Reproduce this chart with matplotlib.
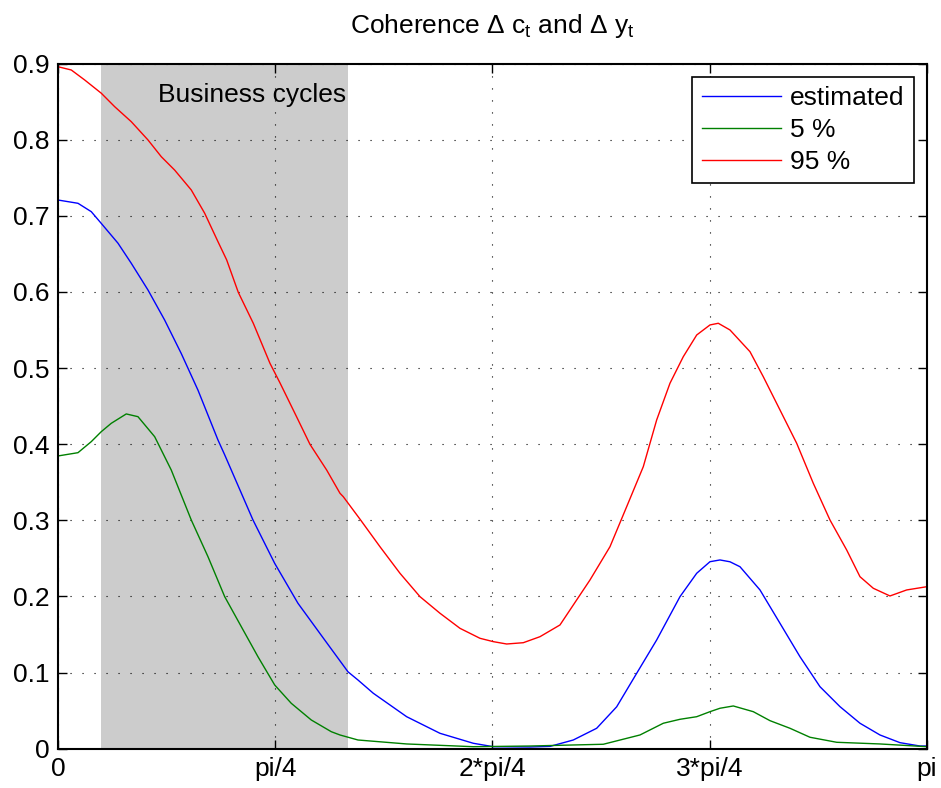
import numpy as np
import matplotlib
matplotlib.use("Agg")
import matplotlib.pyplot as plt

plt.rcParams['font.family'] = ['Liberation Sans', 'DejaVu Sans']
plt.rcParams['mathtext.fontset'] = 'custom'
plt.rcParams['mathtext.rm'] = 'Liberation Sans'

# Frequencies (radians) and coherence values
est_w = [0, 0.0723, 0.1204, 0.1565, 0.2169, 0.2650, 0.3254, 0.3857, 0.4458, 0.5061,
         0.5784, 0.6027, 0.7050, 0.7834, 0.8676, 0.9642, 1.0484, 1.0846, 1.1399, 1.2606,
         1.3810, 1.5014, 1.5737, 1.7064, 1.7787, 1.8629, 1.9475, 2.0198, 2.0921, 2.1644,
         2.2487, 2.3091, 2.3571, 2.3933, 2.4294, 2.4656, 2.5379, 2.6102, 2.6825, 2.7548,
         2.8271, 2.8994, 2.9717, 3.0440, 3.1163, 3.1416]
est_v = [0.7207, 0.7164, 0.7054, 0.690, 0.664, 0.6376, 0.6025, 0.563, 0.519, 0.471,
         0.4055, 0.386, 0.3004, 0.2435, 0.191, 0.1428, 0.101, 0.0902, 0.0728, 0.042,
         0.0202, 0.0071, 0.0026, 0.0022, 0.0030, 0.0114, 0.0268, 0.055, 0.099, 0.1428,
         0.1997, 0.2304, 0.2456, 0.2479, 0.2455, 0.239, 0.2085, 0.1647, 0.1208, 0.0814,
         0.0552, 0.0334, 0.018, 0.0079, 0.0035, 0.0035]

p5_w = [0, 0.0723, 0.1204, 0.1565, 0.1927, 0.2469, 0.2892, 0.3496, 0.4096, 0.4819,
        0.5423, 0.6027, 0.6627, 0.7230, 0.7834, 0.8434, 0.9157, 0.9881, 1.0195, 1.0846,
        1.2606, 1.5014, 1.7064, 1.9714, 2.1040, 2.1883, 2.2487, 2.3091, 2.3571, 2.3933,
        2.4414, 2.5137, 2.5740, 2.6463, 2.7186, 2.8152, 2.9717, 3.1416]
p5_v = [0.3845, 0.3888, 0.4033, 0.4164, 0.4274, 0.4397, 0.4361, 0.4098, 0.366, 0.3004,
        0.2522, 0.1997, 0.1603, 0.1208, 0.0837, 0.0596, 0.0377, 0.0223, 0.018, 0.0114,
        0.0062, 0.0026, 0.0035, 0.0058, 0.018, 0.0334, 0.0386, 0.042, 0.0486, 0.0531,
        0.0561, 0.0486, 0.0368, 0.0268, 0.015, 0.0084, 0.0062, 0.0026]

p95_w = [0, 0.0481, 0.0965, 0.1565, 0.2050, 0.2650, 0.3254, 0.3735, 0.4219, 0.4819,
         0.5304, 0.5784, 0.6099, 0.6518, 0.7061, 0.7664, 0.8026, 0.8630, 0.9110, 0.9714,
         1.0195, 1.0314, 1.0918, 1.1641, 1.2364, 1.3087, 1.3810, 1.4533, 1.5256, 1.5737,
         1.6221, 1.6822, 1.7425, 1.8148, 1.9233, 1.9956, 2.0560, 2.1160, 2.1644, 2.2125,
         2.2606, 2.3091, 2.3571, 2.3871, 2.4294, 2.5017, 2.5498, 2.6102, 2.6705, 2.7306,
         2.7909, 2.8513, 2.8994, 2.9475, 3.0078, 3.0682, 3.1416]
p95_v = [0.8958, 0.8915, 0.8784, 0.861, 0.8433, 0.8236, 0.7996, 0.7776, 0.760, 0.7339,
         0.7033, 0.666, 0.642, 0.5995, 0.5588, 0.5062, 0.4805, 0.4357, 0.3998, 0.366,
         0.3355, 0.331, 0.3015, 0.2653, 0.2304, 0.1997, 0.1779, 0.1581, 0.145, 0.1406,
         0.1375, 0.1392, 0.1471, 0.1625, 0.2216, 0.2653, 0.3179, 0.3704, 0.4318, 0.48,
         0.5149, 0.5434, 0.5566, 0.5588, 0.5500, 0.5215, 0.4886, 0.4449, 0.4012, 0.3486,
         0.3004, 0.261, 0.2259, 0.2107, 0.2006, 0.2085, 0.2128]

band = [2 * np.pi / 40, 2 * np.pi / 6]
xtick_vals = [0, np.pi / 4, 2 * np.pi / 4, 3 * np.pi / 4, np.pi]
xtick_labels = ['0', 'pi/4', '2*pi/4', '3*pi/4', 'pi']
ytick_vals = [0, 0.1, 0.2, 0.3, 0.4, 0.5, 0.6, 0.7, 0.8, 0.9]
ytick_labels = ['0', '0.1', '0.2', '0.3', '0.4', '0.5', '0.6', '0.7', '0.8', '0.9']

FS = 19

fig = plt.figure(figsize=(9.41, 7.88), dpi=100)
ax = fig.add_axes([0.0616, 0.0499, 0.9235, 0.8695])

ax.axvspan(band[0], band[1], color='#cccccc', lw=0, zorder=0.5)
ax.plot(est_w, est_v, color='#0000ff', lw=1.0, label='estimated')
ax.plot(p5_w, p5_v, color='#008000', lw=1.0, label='5 %')
ax.plot(p95_w, p95_v, color='#ff0000', lw=1.0, label='95 %')

ax.text(0.703, 0.85, 'Business cycles', ha='center', va='baseline', fontsize=FS)

ax.set_xlim(0, np.pi)
ax.set_ylim(0, 0.9)
ax.set_xticks(xtick_vals)
ax.set_xticklabels(xtick_labels)
ax.set_yticks(ytick_vals)
ax.set_yticklabels(ytick_labels)
ax.tick_params(direction='in', length=6.5, width=1, labelsize=FS, top=True, right=True, pad=6)
ax.grid(True, color='black', linestyle=(0, (1, 9.8)), linewidth=0.8)
for s in ax.spines.values():
    s.set_linewidth(1.5)

ax.set_title('Coherence Δ c$\\mathregular{_t}$ and Δ y$\\mathregular{_t}$', fontsize=FS, pad=22)

leg = ax.legend(loc='upper right', fontsize=FS, handlelength=3.0, frameon=True,
                fancybox=False, edgecolor='black', framealpha=1, borderaxespad=0.5,
                labelspacing=0.3, borderpad=0.35, handletextpad=0.35)
leg.get_frame().set_linewidth(1.2)

fig.savefig('out.png', dpi=100)
